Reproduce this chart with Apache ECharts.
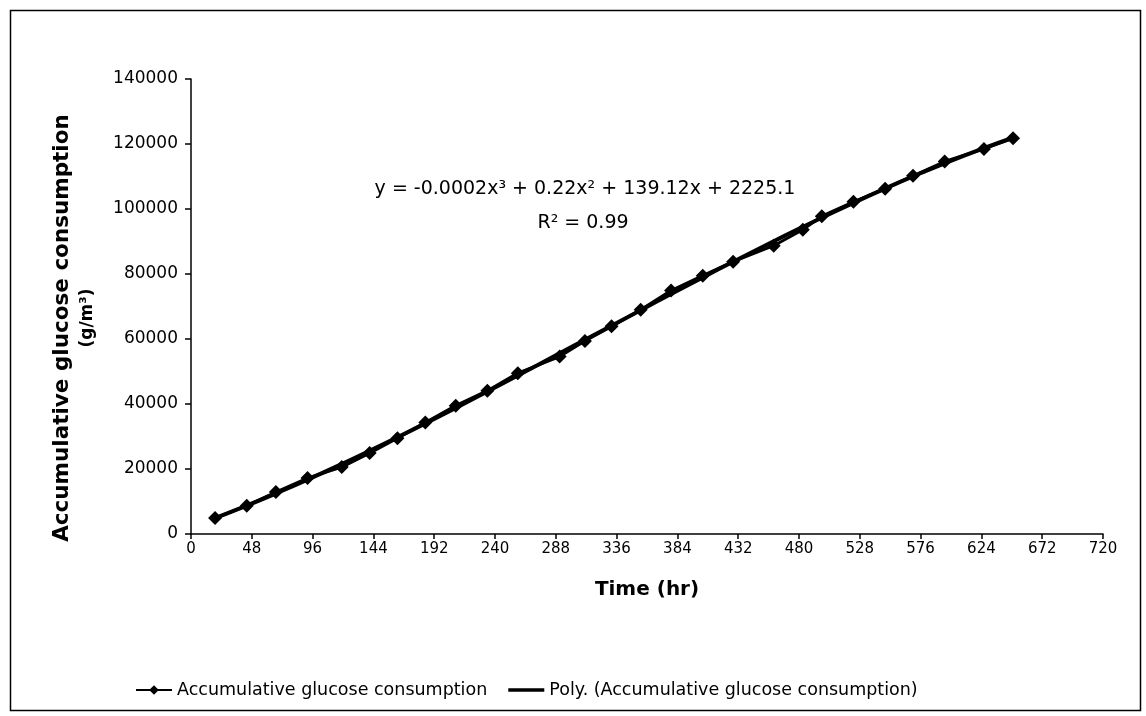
<!DOCTYPE html>
<html>
<head>
<meta charset="utf-8">
<script src="https://cdn.jsdelivr.net/npm/echarts@6/dist/echarts.min.js"></script>
<style>
  html, body { margin: 0; padding: 0; background: #fff; }
  #chart { width: 1146px; height: 716px; }
</style>
</head>
<body>
<div id="chart"></div>
<script>
// Sampling times (hr)
const timeHr = [19, 44, 67, 92, 119, 141, 163, 185, 209, 234, 258, 291, 311, 332,
  355, 379, 404, 428, 460, 483, 498, 523, 548, 570, 595, 626, 649];
// Accumulative glucose consumption (g/m3)
const glucose = [4900, 8700, 12900, 17200, 20600, 24900, 29500, 34300, 39500, 44100,
  49500, 54600, 59400, 63900, 69000, 74900, 79500, 83800, 88700, 93600, 97800,
  102200, 106200, 110200, 114600, 118500, 121800];

const seriesName = 'Accumulative glucose consumption';
const trendName = 'Poly. (Accumulative glucose consumption)';
const equationText = 'y = -0.0002x³ + 0.22x² + 139.12x + 2225.1';
const r2Text = 'R² = 0.99';
const xTitle = 'Time (hr)';
const yTitleLines = ['Accumulative glucose consumption', '(g/m³)'];

// Least-squares cubic trend fitted to the measured points
function cubicFit(xs, ys) {
  const s = 100; // scale x for numerical stability
  const n = 4;
  const A = Array.from({ length: n }, () => new Array(n + 1).fill(0));
  for (let k = 0; k < xs.length; k++) {
    const t = xs[k] / s;
    const p = [1, t, t * t, t * t * t];
    for (let i = 0; i < n; i++) {
      for (let j = 0; j < n; j++) A[i][j] += p[i] * p[j];
      A[i][n] += p[i] * ys[k];
    }
  }
  for (let c = 0; c < n; c++) {
    let piv = c;
    for (let r = c + 1; r < n; r++) if (Math.abs(A[r][c]) > Math.abs(A[piv][c])) piv = r;
    [A[c], A[piv]] = [A[piv], A[c]];
    for (let r = 0; r < n; r++) {
      if (r === c) continue;
      const f = A[r][c] / A[c][c];
      for (let j = c; j <= n; j++) A[r][j] -= f * A[c][j];
    }
  }
  const coef = A.map((row, i) => row[n] / row[i]);
  return x => { const t = x / s; return coef[0] + coef[1] * t + coef[2] * t * t + coef[3] * t * t * t; };
}
const trend = cubicFit(timeHr, glucose);
const trendData = timeHr.map(x => [x, trend(x)]);

const FONT = 'DejaVu Sans';
// Legend key for the trend: a plain thick bar (two tiny specks fix the icon's bounding box)
const thickLineIcon = 'path://M0,0H0.01V0.01H0Z M0,4H40V8H0Z M39.99,11.99H40V12H39.99Z';

const chart = echarts.init(document.getElementById('chart'), null, { renderer: 'canvas' });

chart.setOption({
  backgroundColor: '#fff',
  animation: false,
  grid: { left: 191, right: 43, top: 79, bottom: 182, containLabel: false },
  xAxis: {
    type: 'value', min: 0, max: 720, interval: 48,
    name: xTitle, nameLocation: 'middle', nameGap: 46,
    nameTextStyle: { fontFamily: FONT, fontWeight: 'bold', fontSize: 20, color: '#000' },
    axisLine: { lineStyle: { color: '#000', width: 1.5 } },
    axisTick: { show: true, inside: false, length: 5, lineStyle: { color: '#000', width: 1.5 } },
    axisLabel: { color: '#000', fontFamily: FONT, fontSize: 15, margin: 8, formatter: v => String(v) },
    splitLine: { show: false }
  },
  yAxis: {
    type: 'value', min: 0, max: 140000, interval: 20000,
    axisLine: { show: true, lineStyle: { color: '#000', width: 1.5 } },
    axisTick: { show: true, inside: false, length: 6, lineStyle: { color: '#000', width: 1.5 } },
    axisLabel: { color: '#000', fontFamily: FONT, fontSize: 17, margin: 13, formatter: v => String(v) },
    splitLine: { show: false }
  },
  legend: {
    left: 130, top: 676, itemWidth: 36, itemHeight: 12, itemGap: 21,
    textStyle: { fontFamily: FONT, fontSize: 17.5, color: '#000' },
    data: [seriesName, { name: trendName, icon: thickLineIcon }]
  },
  series: [
    {
      name: seriesName, type: 'line',
      data: timeHr.map((x, i) => [x, glucose[i]]),
      symbol: 'diamond', symbolSize: 14,
      itemStyle: { color: '#000' },
      lineStyle: { color: '#000', width: 3 },
      z: 3
    },
    {
      name: trendName, type: 'line', data: trendData,
      symbol: 'none', smooth: true,
      itemStyle: { color: '#000' },
      lineStyle: { color: '#000', width: 4 },
      z: 2
    }
  ],
  graphic: [
    {
      type: 'rect', left: 8, top: 8, silent: true,
      shape: { width: 1130, height: 700 },
      style: { fill: 'none', stroke: '#000', lineWidth: 1.5 }
    },
    {
      type: 'text', x: 62, y: 328, rotation: Math.PI / 2, silent: true,
      style: { text: yTitleLines[0], fontFamily: FONT, fontWeight: 'bold', fontSize: 21.5,
        fill: '#000', align: 'center', verticalAlign: 'middle' }
    },
    {
      type: 'text', x: 88, y: 318, rotation: Math.PI / 2, silent: true,
      style: { text: yTitleLines[1], fontFamily: FONT, fontWeight: 'bold', fontSize: 17,
        fill: '#000', align: 'center', verticalAlign: 'middle' }
    },
    {
      type: 'text', x: 585, y: 189, silent: true,
      style: { text: equationText, fontFamily: FONT, fontSize: 19, fill: '#000',
        align: 'center', verticalAlign: 'middle' }
    },
    {
      type: 'text', x: 583, y: 223, silent: true,
      style: { text: r2Text, fontFamily: FONT, fontSize: 19, fill: '#000',
        align: 'center', verticalAlign: 'middle' }
    }
  ]
});
</script>
</body>
</html>
